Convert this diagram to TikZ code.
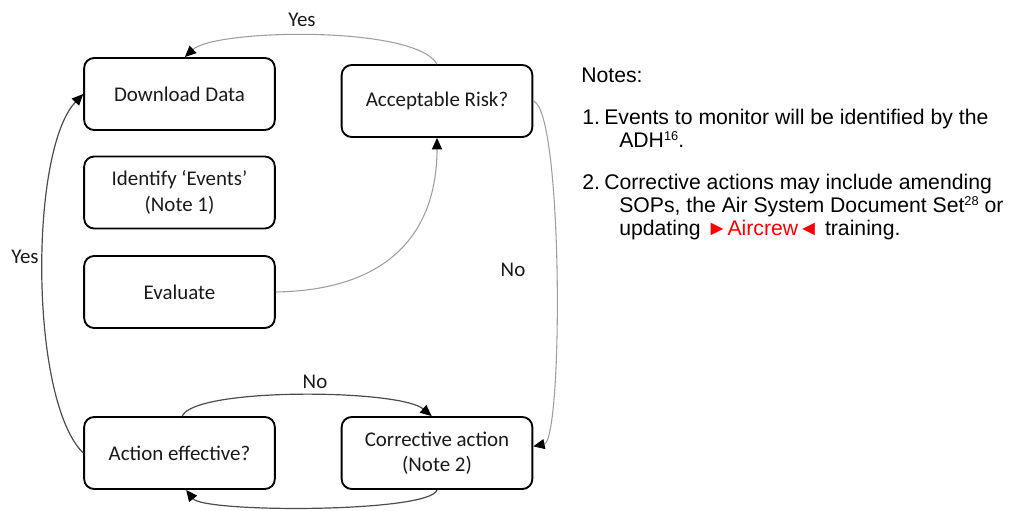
\documentclass[tikz,border=0pt]{standalone}
\usepackage{fontspec}
\setmainfont{Carlito}
\newfontfamily\notesfont{Liberation Sans}
\usetikzlibrary{arrows.meta}
\definecolor{lightconn}{gray}{0.62}
\definecolor{darkconn}{gray}{0.30}
\definecolor{boxtext}{gray}{0.10}
\newcommand{\supnum}[1]{\raisebox{4.6pt}{\fontsize{9.6pt}{10pt}\selectfont #1}}
\begin{document}
\begin{tikzpicture}[x=0.75pt,y=-0.75pt,
  stepbox/.style={draw=black, line width=1.4pt, rounded corners=7.5pt,
    minimum width=143pt, minimum height=54pt, align=center, inner sep=0pt,
    font=\fontsize{15.7pt}{19pt}\selectfont, text=boxtext},
  lbl/.style={font=\fontsize{15.7pt}{19pt}\selectfont, text=boxtext, inner sep=0pt},
  note/.style={font=\notesfont\fontsize{15.9pt}{17pt}\selectfont, anchor=base west, inner sep=0pt},
  tip/.style={-{Triangle[length=8.5pt,width=7.5pt,color=black]}},
  lightarrow/.style={tip, draw=lightconn, line width=0.8pt},
  darkarrow/.style={tip, draw=darkconn, line width=0.9pt}
]
\useasboundingbox (0,0) rectangle (1019,510);

% boxes
\node[stepbox] (dl) at (179.5,94) {Download Data};
\node[stepbox] (ar) at (437,101) {Acceptable Risk?};
\node[stepbox] (id) at (179.5,192.5) {Identify ‘Events’\\(Note 1)};
\node[stepbox] (ev) at (179.5,292) {Evaluate};
\node[stepbox] (ae) at (179.5,453) {Action effective?};
\node[stepbox] (ca) at (437,453) {Corrective action\\(Note 2)};

% connectors
\draw[lightarrow] (ar.north) .. controls +(-22,-39) and +(30,-28) .. ([xshift=4pt]dl.north);
\draw[darkarrow] (ae.west) .. controls +(-54,-53) and +(-54,56) .. (dl.west);
\draw[lightarrow] (ev.east) .. controls +(120,-2) and +(0,88) .. (ar.south);
\draw[lightarrow] (ar.east) .. controls +(30,9) and +(30,-6) .. ([yshift=5pt]ca.east);
\draw[darkarrow] ([xshift=2pt]ae.north) .. controls +(13,-29) and +(-32,-27) .. ([xshift=-4pt]ca.north);
\draw[darkarrow] (ca.south) .. controls +(-7,23) and +(18,23) .. ([xshift=5pt]ae.south);

% connector labels
\node[lbl] (yes1) at (302,20) {Yes};
\node[lbl] (yes2) at (25,257) {Yes};
\node[lbl] (no1) at (513,270) {No};
\node[lbl] (no2) at (315,382) {No};

% notes
\node[note] (n0) at (581,83) {Notes:};
\node[note] (n1a) at (582,124) {1.};
\node[note] (n1b) at (604,124) {Events to monitor will be identified by the};
\node[note] (n1c) at (619,147) {ADH\supnum{16}.};
\node[note] (n2a) at (582,189) {2.};
\node[note] (n2b) at (604,189) {Corrective actions may include amending};
\node[note] (n2c) at (619,212) {SOPs, the Air System Document Set\supnum{28} or};
\node[note] (n2d) at (619,235) {updating \textcolor{red}{►Aircrew◄} training.};
\end{tikzpicture}
\end{document}
